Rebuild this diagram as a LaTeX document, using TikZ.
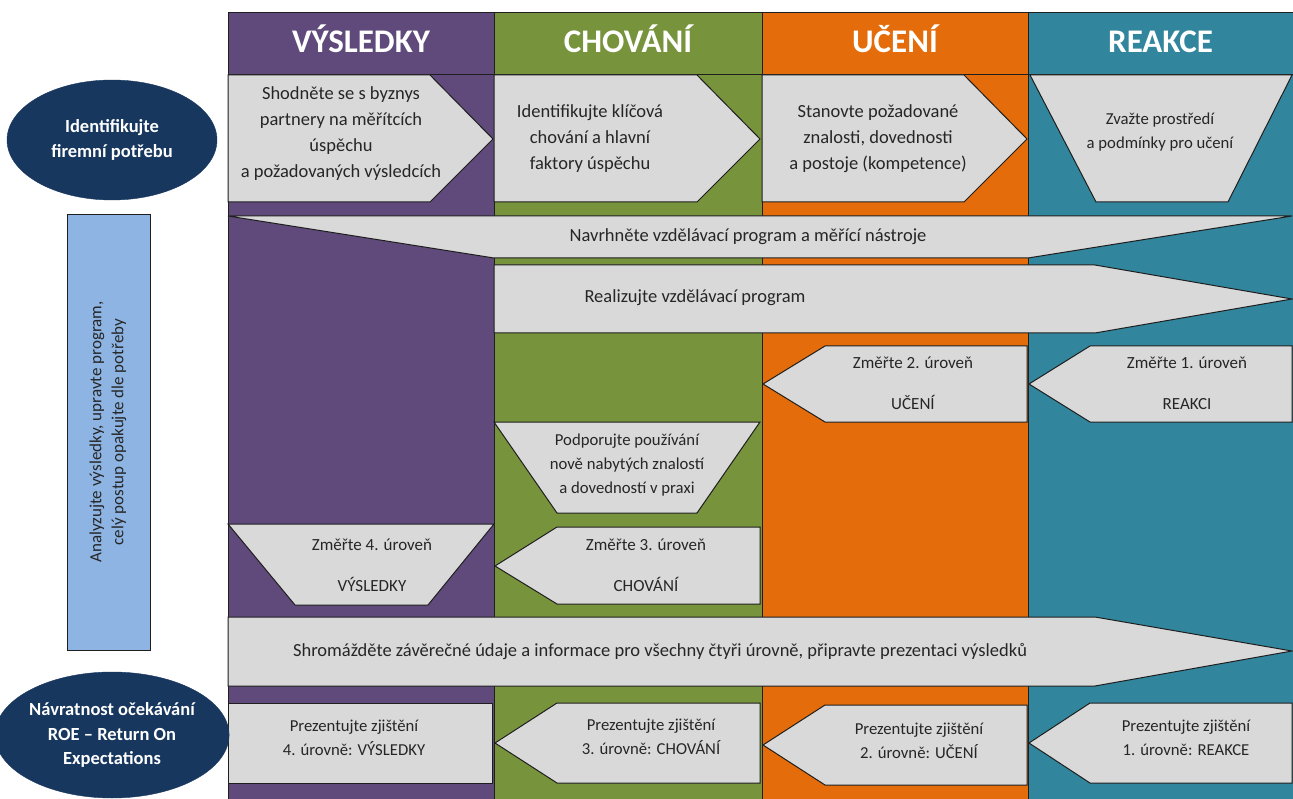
\documentclass[tikz,border=0pt]{standalone}
\usepackage{fontspec}
\setmainfont{Carlito}
\usepackage{tikz}
\usetikzlibrary{shapes.geometric}
\definecolor{vysl}{HTML}{604A7B}
\definecolor{chov}{HTML}{77933C}
\definecolor{uceni}{HTML}{E46C0A}
\definecolor{reak}{HTML}{31859C}
\definecolor{panelbg}{HTML}{D9D9D9}
\definecolor{navy}{HTML}{17375E}
\definecolor{sky}{HTML}{8EB4E3}
\definecolor{inkgray}{HTML}{1E1E1E}
\definecolor{txtgray}{HTML}{262626}

\begin{document}
\begin{tikzpicture}[
    x=1pt, y=-1pt,
    column/.style={draw=inkgray, line width=1pt},
    panel/.style={draw=inkgray, fill=panelbg, line width=1pt, line join=miter},
    head/.style={text=white, anchor=base, font=\bfseries\fontsize{33}{38}\selectfont},
    label/.style={align=center, text=txtgray, font=\fontsize{18.5}{26}\selectfont},
    small/.style={align=center, text=txtgray, font=\fontsize{16.7}{24}\selectfont},
    measure/.style={align=center, text=txtgray, font=\fontsize{17}{41}\selectfont},
    oval/.style={ellipse, draw=navy, fill=navy, text=white, align=center,
                 minimum width=210pt, inner sep=0pt,
                 font=\bfseries\fontsize{18.5}{24.5}\selectfont}
]
  \useasboundingbox (0,0) rectangle (1293,799);

  % columns with headers
  \foreach \xa/\xb/\col/\title in {228/494/vysl/VÝSLEDKY, 494/762/chov/CHOVÁNÍ,
                                   762/1028/uceni/UČENÍ, 1028/1293/reak/REAKCE} {
    \filldraw[column, fill=\col] (\xa,13) rectangle (\xb,799);
    \draw[column] (\xa,13) rectangle (\xb,75);
    \node[head] (h-\col) at ({(\xa+\xb)/2},53) {\title};
  }

  % row 1
  \filldraw[panel] (228,75) -- (430,75) -- (493,139) -- (430,202) -- (228,202) -- cycle;
  \filldraw[panel] (494,75) -- (697,75) -- (760,139) -- (697,202) -- (494,202) -- cycle;
  \filldraw[panel] (762,75) -- (964,75) -- (1027,139) -- (964,202) -- (762,202) -- cycle;
  \filldraw[panel] (1030,75) -- (1292,75) -- (1228,202) -- (1096,202) -- cycle;
  \node[label] (agree) at (341,134) {Shodněte se s byznys\\partnery na měřítcích\\úspěchu\\a požadovaných výsledcích};
  \node[label] (ident) at (590,139) {Identifikujte klíčová\\chování a hlavní\\faktory úspěchu};
  \node[label] (compet) at (878,139) {Stanovte požadované\\znalosti, dovednosti\\a postoje (kompetence)};
  \node[small] (envir) at (1160,132) {Zvažte prostředí\\a podmínky pro učení};

  % design and delivery
  \filldraw[panel] (228,216) -- (1292,216) -- (1028,258) -- (494,258) -- cycle;
  \node[label] (design) at (748,237) {Navrhněte vzdělávací program a měřící nástroje};
  \filldraw[panel] (494,265) -- (1095,265) -- (1292,299) -- (1095,333) -- (494,333) -- cycle;
  \node[label] (deliver) at (695,298) {Realizujte vzdělávací program};

  % measuring levels 1 and 2
  \filldraw[panel] (763,384) -- (825,346) -- (1027,346) -- (1027,422) -- (825,422) -- cycle;
  \filldraw[panel] (1029,384) -- (1090,346) -- (1292,346) -- (1292,422) -- (1090,422) -- cycle;
  \node[measure] (lvl2) at (913,383) {Změřte 2. úroveň\\UČENÍ};
  \node[measure] (lvl1) at (1187,383) {Změřte 1. úroveň\\REAKCI};

  % support in practice
  \filldraw[panel] (494,422) -- (760,422) -- (697,513) -- (557,513) -- cycle;
  \node[small] (support) at (627,465) {Podporujte používání\\nově nabytých znalostí\\a dovedností v praxi};

  % measuring levels 3 and 4
  \filldraw[panel] (228,524) -- (494,524) -- (428,605) -- (295,605) -- cycle;
  \filldraw[panel] (495,566) -- (557,527) -- (760,527) -- (760,604) -- (557,604) -- cycle;
  \node[measure] (lvl4) at (372,565) {Změřte 4. úroveň\\VÝSLEDKY};
  \node[measure] (lvl3) at (646,565) {Změřte 3. úroveň\\CHOVÁNÍ};

  % collect data
  \filldraw[panel] (228,617) -- (1095,617) -- (1292,651) -- (1095,686) -- (228,686) -- cycle;
  \node[label] (collect) at (660,652) {Shromážděte závěrečné údaje a informace pro všechny čtyři úrovně, připravte prezentaci výsledků};

  % presenting findings
  \filldraw[panel] (228,703) rectangle (492,783);
  \filldraw[panel] (495,743) -- (557,703) -- (760,703) -- (760,783) -- (557,783) -- cycle;
  \filldraw[panel] (763,745) -- (825,705) -- (1027,705) -- (1027,785) -- (825,785) -- cycle;
  \filldraw[panel] (1029,743) -- (1090,703) -- (1292,703) -- (1292,783) -- (1090,783) -- cycle;
  \node[small] (pres4) at (354,738) {Prezentujte zjištění\\4. úrovně: VÝSLEDKY};
  \node[small] (pres3) at (651,737) {Prezentujte zjištění\\3. úrovně: CHOVÁNÍ};
  \node[small] (pres2) at (919,741) {Prezentujte zjištění\\2. úrovně: UČENÍ};
  \node[small] (pres1) at (1186,738) {Prezentujte zjištění\\1. úrovně: REAKCE};

  % left side
  \node[oval, minimum height=120pt] (need) at (112,140) {Identifikujte\\firemní potřebu};
  \filldraw[draw=inkgray, fill=sky, line width=1pt] (67,215) rectangle (150,650);
  \node[small, rotate=90, font=\fontsize{17}{22}\selectfont] (analyze) at (108,432)
    {Analyzujte výsledky, upravte program,\\celý postup opakujte dle potřeby};
  \node[oval, minimum height=126pt] (roe) at (112,735) {Návratnost očekávání\\ROE – Return On\\Expectations};
\end{tikzpicture}
\end{document}
